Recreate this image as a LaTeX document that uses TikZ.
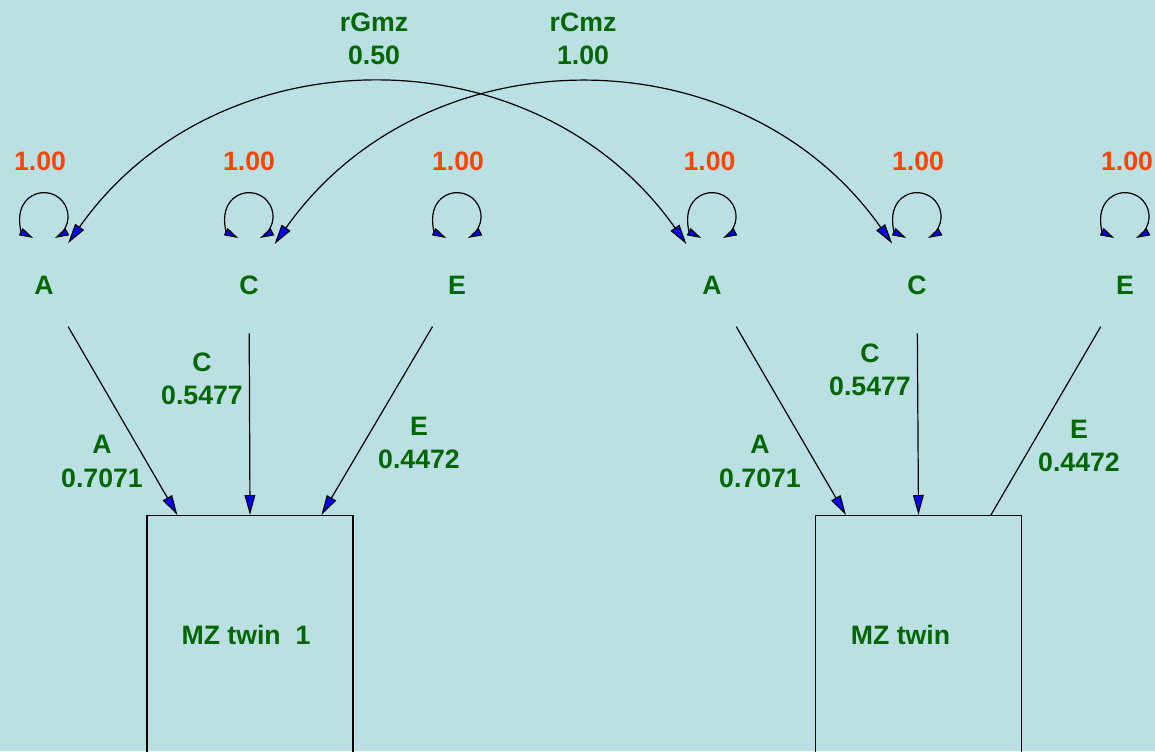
\documentclass[tikz,border=0pt]{standalone}
\usepackage{fontspec}
\setmainfont{Liberation Sans}
\usetikzlibrary{arrows.meta,calc}
\definecolor{bg}{RGB}{187,224,227}
\definecolor{lblgreen}{RGB}{0,102,0}
\definecolor{varred}{RGB}{255,69,0}
\begin{document}
\begin{tikzpicture}[x=0.75pt,y=-0.75pt,
  every node/.style={font=\fontsize{20}{25}\selectfont\bfseries},
  latent/.style={circle,minimum size=72pt,inner sep=0pt,text=lblgreen},
  lbl/.style={text=lblgreen,align=center,inner sep=0pt},
  varlbl/.style={text=varred,inner sep=0pt},
  obs/.style={draw=black,rectangle,minimum width=154.5pt,minimum height=240pt,inner sep=0pt,anchor=north,line width=0.9pt},
  conn/.style={draw=black,line width=0.9pt,-{Triangle[length=15pt,width=8pt,fill=blue]}},
  plainconn/.style={draw=black,line width=0.9pt},
  selfloop/.style={draw=black,line width=0.9pt,{Triangle[length=10.5pt,width=6pt,fill=blue]}-{Triangle[length=10.5pt,width=6pt,fill=blue]}},
  cov/.style={draw=black,line width=0.9pt,{Triangle[length=15pt,width=8pt,fill=blue]}-{Triangle[length=15pt,width=8pt,fill=blue]}}
]
\clip (0,0) rectangle (1155,751);
\fill[bg] (0,0) rectangle (1155,751);

% latent variables
\node[latent] (A1) at (44,285) {A};
\node[latent] (C1) at (249,285) {C};
\node[latent] (E1) at (457,285) {E};
\node[latent] (A2) at (712,285) {A};
\node[latent] (C2) at (917,285) {C};
\node[latent] (E2) at (1125,285) {E};

% observed boxes
\node[obs] (box1) at (250,515) {};
\node[obs] (box2) at (918.5,515) {};
\node[lbl] (t1) at (246,635) {MZ twin\ \ 1};
\node[lbl] (t2) at (900.5,635) {MZ twin};

% variance labels
\node[varlbl] (v1) at (40,161) {1.00};
\node[varlbl] (v2) at (249,161) {1.00};
\node[varlbl] (v3) at (458,161) {1.00};
\node[varlbl] (v4) at (709.5,161) {1.00};
\node[varlbl] (v5) at (918,161) {1.00};
\node[varlbl] (v6) at (1127,161) {1.00};

% self loops
\foreach \n in {A1,C1,E1,A2,C2,E2}{
  \draw[selfloop] (\n.103) arc[start angle=117, end angle=423, radius=24];
}

% covariances
\draw[cov] (A1.60) .. controls ($(A1.60)+(150,-213)$) and ($(A2.122)+(-150,-213)$) .. (A2.122);
\draw[cov] (C1.58) .. controls ($(C1.58)+(150,-213)$) and ($(C2.121)+(-150,-213)$) .. (C2.121);
\node[lbl] (rg) at (374,39) {rGmz\\0.50};
\node[lbl] (rc) at (583,39) {rCmz\\1.00};

% loadings
\draw[conn] (A1) -- ($(box1.north west)+(31,0)$);
\draw[conn] (C1) -- (box1.north);
\draw[conn] (E1) -- ($(box1.north west)+(175,0)$);
\draw[conn] (A2) -- ($(box2.north west)+(31,0)$);
\draw[conn] (C2) -- (box2.north);
\draw[plainconn] (E2) -- ($(box2.north west)+(176,0)$);

\node[lbl] (la1) at (102,461.5) {A\\0.7071};
\node[lbl] (lc1) at (202,379) {C\\0.5477};
\node[lbl] (le1) at (419,443) {E\\0.4472};
\node[lbl] (la2) at (760,461.5) {A\\0.7071};
\node[lbl] (lc2) at (870,370) {C\\0.5477};
\node[lbl] (le2) at (1079,446) {E\\0.4472};
\end{tikzpicture}
\end{document}
